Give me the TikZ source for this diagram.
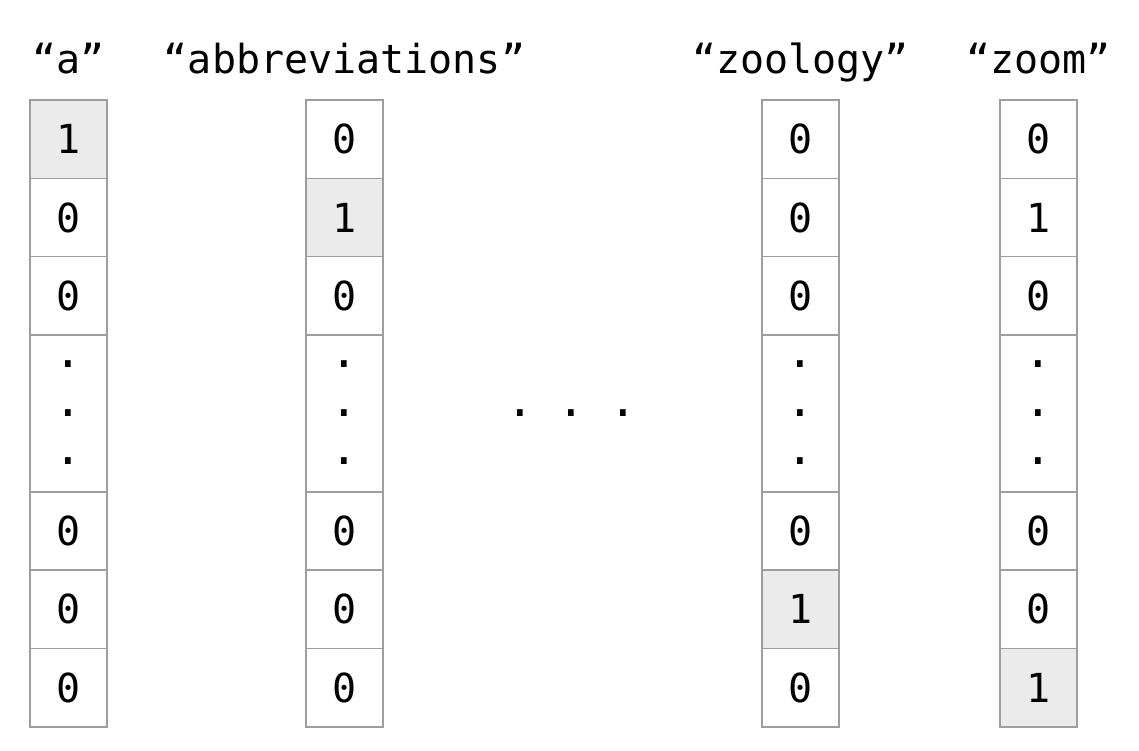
\documentclass[tikz,border=0pt]{standalone}
\usepackage{fontspec}
\setmonofont{DejaVu Sans Mono}
\begin{document}
\begin{tikzpicture}[x=1pt,y=-1pt,
  cell/.style={draw=black!38,line width=1.4pt,minimum width=77pt,minimum height=78.375pt,inner sep=0pt,outer sep=0pt,font=\ttfamily\fontsize{40}{48}\selectfont},
  hot/.style={fill=black!8},
  tall/.style={minimum height=156.75pt},
  lbl/.style={anchor=base,inner sep=0pt,font=\ttfamily\fontsize{40}{48}\selectfont},
  dotc/.style={anchor=base,inner sep=0pt,font=\ttfamily\fontsize{46}{48}\selectfont}]
\useasboundingbox (0,0) rectangle (1139,750);
\foreach \c/\x/\w/\va/\vb/\vc/\ve/\vf/\vg/\ha/\hb/\hc/\he/\hf/\hg in {
  a/68.5/{“a”}/1/0/0/0/0/0/black!8/white/white/white/white/white,
  b/344.5/{“abbreviations”}/0/1/0/0/0/0/white/black!8/white/white/white/white,
  c/800.5/{“zoology”}/0/0/0/0/1/0/white/white/white/white/black!8/white,
  d/1038.5/{“zoom”}/0/1/0/0/0/1/white/white/white/white/white/black!8}{
  \node[lbl] (lab\c) at (\x,73) {\w};
  \node[cell,fill=\ha] (\c1) at (\x,139.19) {\va};
  \node[cell,fill=\hb] (\c2) at (\x,217.56) {\vb};
  \node[cell,fill=\hc] (\c3) at (\x,295.94) {\vc};
  \node[cell,tall] (\c4) at (\x,413.44) {};
  \node[cell,fill=\he] (\c5) at (\x,531.0) {\ve};
  \node[cell,fill=\hf] (\c6) at (\x,609.4) {\vf};
  \node[cell,fill=\hg] (\c7) at (\x,687.8) {\vg};
  \node[dotc] (\c d1) at (\x,367) {.};
  \node[dotc] (\c d2) at (\x,416) {.};
  \node[dotc] (\c d3) at (\x,464) {.};
}
\node[dotc] (mid) at (571.5,416) {.\hspace{0.52em}.\hspace{0.52em}.};
\end{tikzpicture}
\end{document}
